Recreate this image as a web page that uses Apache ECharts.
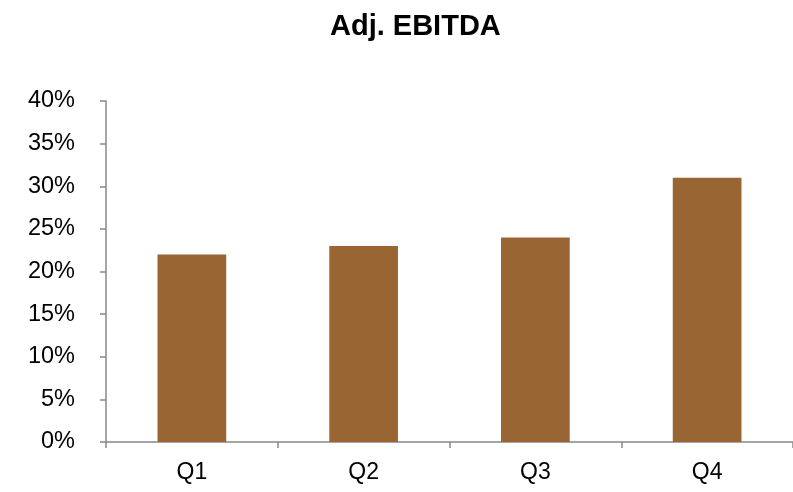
<!DOCTYPE html>
<html>
<head>
<meta charset="utf-8">
<script src="https://cdn.jsdelivr.net/npm/echarts@6/dist/echarts.min.js"></script>
<style>
  html, body { margin: 0; padding: 0; background: #fff; }
  #chart { width: 793px; height: 492px; }
</style>
</head>
<body>
<div id="chart"></div>
<script>
// Quarterly adjusted EBITDA margin (%)
const quarters = ['Q1', 'Q2', 'Q3', 'Q4'];
const ebitdaMargin = [22, 23, 24, 31];

const chart = echarts.init(document.getElementById('chart'), null, { renderer: 'canvas' });
const font = '"Liberation Sans", Arial, sans-serif';

chart.setOption({
  animation: false,
  title: {
    text: 'Adj. EBITDA',
    left: 325,
    top: 7,
    textStyle: { fontFamily: font, fontSize: 29, fontWeight: 'bold', color: '#000' }
  },
  grid: { left: 106, right: 0, top: 101, bottom: 50, containLabel: false },
  xAxis: {
    type: 'category',
    data: quarters,
    boundaryGap: true,
    axisLine: { lineStyle: { color: '#888', width: 1.5 } },
    axisTick: { show: true, alignWithLabel: false, length: 6, lineStyle: { color: '#888', width: 1.5 } },
    axisLabel: { color: '#000', fontFamily: font, fontSize: 23, margin: 19 }
  },
  yAxis: {
    type: 'value',
    min: 0,
    max: 40,
    interval: 5,
    splitLine: { show: false },
    axisLine: { show: true, lineStyle: { color: '#888', width: 1.5 } },
    axisTick: { show: true, length: 6, lineStyle: { color: '#888', width: 1.5 } },
    axisLabel: { color: '#000', fontFamily: font, fontSize: 23.5, margin: 31, formatter: '{value}%' }
  },
  series: [{
    type: 'bar',
    data: ebitdaMargin,
    barWidth: '40%',
    itemStyle: { color: '#996633' }
  }]
});
</script>
</body>
</html>
